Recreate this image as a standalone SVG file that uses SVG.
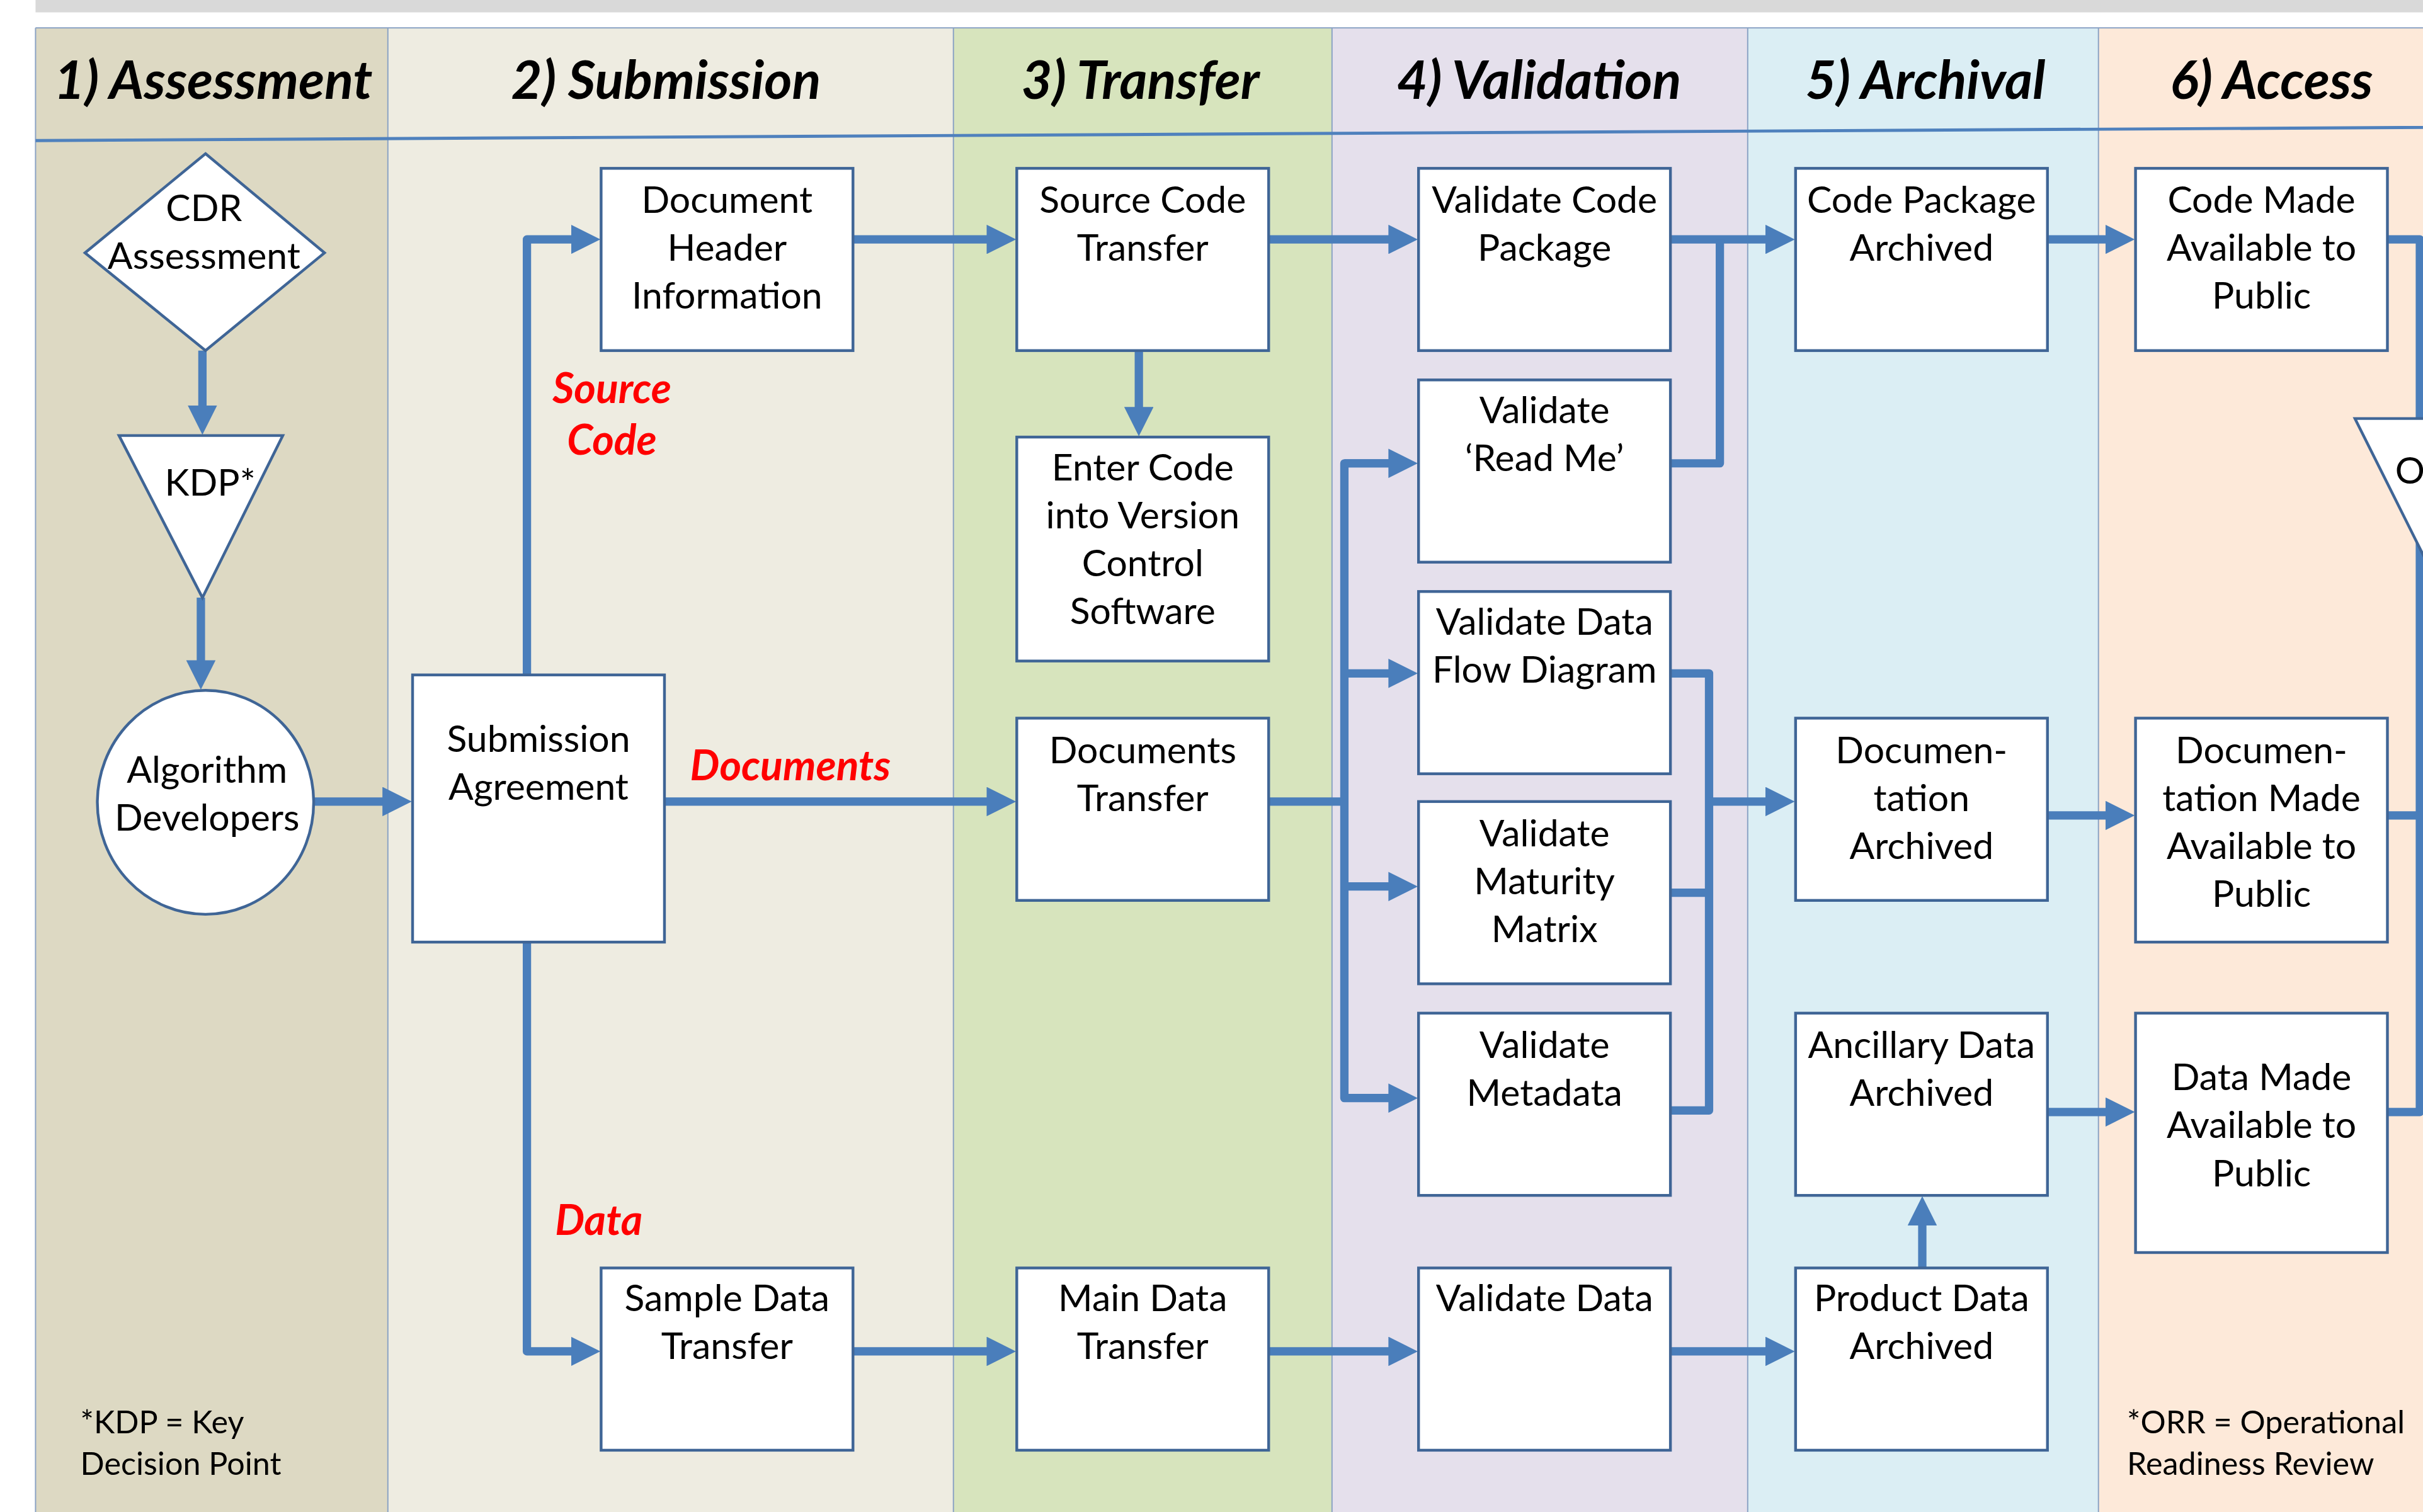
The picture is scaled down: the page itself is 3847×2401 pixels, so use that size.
<svg xmlns="http://www.w3.org/2000/svg" width="3847" height="2401" viewBox="0 0 3847 2401">
<defs>
<style>
.lane{stroke:#8aa2c4;stroke-width:0.8}
.box{fill:#fff;stroke:#3f6596;stroke-width:1.8}
.t{font-family:Lato,"Liberation Sans",sans-serif;font-size:24px;text-anchor:middle;fill:#000}
.hd{font-weight:bold;font-style:italic;font-size:34.5px}
.red{fill:#ff0000;font-weight:bold;font-style:italic;font-size:27px}
.note{font-size:20.5px;text-anchor:start}
.c{fill:none;stroke:#4a7ebb;stroke-width:5.4;stroke-linejoin:round}
.a{marker-end:url(#ah)}
</style>
<marker id="ah" markerUnits="userSpaceOnUse" viewBox="0 0 19 19" markerWidth="19" markerHeight="19" refX="0.5" refY="9.5" orient="auto"><path d="M0,0 L19,9.5 L0,19 z" fill="#4a7ebb"/></marker>
</defs>
<rect width="3847" height="2401" fill="#fff"/>
<g transform="scale(2.4534,2.4525)">
<g id="lanes">
<rect x="23" y="0" width="1545" height="8" fill="#d9d9d9"/>
<rect x="23" y="18" width="228" height="961" fill="#ddd9c3"/>
<rect x="251" y="18" width="366" height="961" fill="#eeece1"/>
<rect x="617" y="18" width="245" height="961" fill="#d7e4bd"/>
<rect x="862" y="18" width="269" height="961" fill="#e5e0ec"/>
<rect x="1131" y="18" width="227" height="961" fill="#dbeef4"/>
<rect x="1358" y="18" width="212" height="961" fill="#fde9d9"/>
<line class="lane" x1="23" y1="18" x2="1568" y2="18"/>
<line class="lane" x1="23" y1="18" x2="23" y2="979"/>
<line class="lane" x1="251" y1="18" x2="251" y2="979"/>
<line class="lane" x1="617" y1="18" x2="617" y2="979"/>
<line class="lane" x1="862" y1="18" x2="862" y2="979"/>
<line class="lane" x1="1131" y1="18" x2="1131" y2="979"/>
<line class="lane" x1="1358" y1="18" x2="1358" y2="979"/>
<line x1="23" y1="91" x2="1568" y2="82.5" stroke="#4f81bd" stroke-width="2"/>
<text class="t hd" x="138" y="64">1) Assessment</text>
<text class="t hd" x="431" y="64">2) Submission</text>
<text class="t hd" x="738" y="64">3) Transfer</text>
<text class="t hd" x="996" y="64">4) Validation</text>
<text class="t hd" x="1246" y="64">5) Archival</text>
<text class="t hd" x="1470" y="64">6) Access</text>
</g>
<g id="connectors">
<path class="c a" d="M131,227 V263"/>
<path class="c a" d="M130,387 V428"/>
<path class="c a" d="M203,519 H248"/>
<path class="c a" d="M341,437 V155 H370"/>
<path class="c a" d="M341,610 V875 H370"/>
<path class="c a" d="M430,519 H639"/>
<path class="c a" d="M552,155 H639"/>
<path class="c a" d="M737,227 V264"/>
<path class="c a" d="M552,875 H639"/>
<path class="c a" d="M821,155 H899"/>
<path class="c" d="M821,519 H870"/>
<path class="c a" d="M899,300 H870 V711 H899"/>
<path class="c a" d="M870,300 H899"/>
<path class="c a" d="M870,436 H899"/>
<path class="c a" d="M870,574 H899"/>
<path class="c a" d="M821,875 H899"/>
<path class="c a" d="M1081,155 H1143"/>
<path class="c" d="M1081,300 H1113 V155"/>
<path class="c" d="M1081,436 H1106 V719 H1081"/>
<path class="c" d="M1081,578 H1106"/>
<path class="c a" d="M1106,519 H1143"/>
<path class="c a" d="M1081,875 H1143"/>
<path class="c a" d="M1244,821 V793"/>
<path class="c a" d="M1325,155 H1363"/>
<path class="c a" d="M1325,528 H1363"/>
<path class="c a" d="M1325,720 H1363"/>
<path class="c" d="M1545,155 H1566 V720 H1545"/>
<path class="c" d="M1545,528 H1566"/>
</g>
<g id="cdr-assessment">
<polygon class="box" points="133,99.5 210,163.7 133,227 55,163.7"/>
<text class="t" x="132" y="143">CDR</text>
<text class="t" x="132" y="174">Assessment</text>
</g>
<g id="kdp">
<polygon class="box" points="77,282 183,282 131,387"/>
<text class="t" x="136" y="321">KDP*</text>
</g>
<g id="algorithm-developers">
<ellipse class="box" cx="133" cy="519.5" rx="70" ry="72.5"/>
<text class="t" x="134" y="507">Algorithm</text>
<text class="t" x="134" y="538">Developers</text>
</g>
<g id="submission-agreement">
<rect class="box" x="267" y="437" width="163" height="173"/>
<text class="t" x="348.5" y="487">Submission</text>
<text class="t" x="348.5" y="518">Agreement</text>
</g>
<g id="document-header">
<rect class="box" x="389" y="109" width="163" height="118"/>
<text class="t" x="470.5" y="138">Document</text>
<text class="t" x="470.5" y="169">Header</text>
<text class="t" x="470.5" y="200">Information</text>
</g>
<g id="sample-data-transfer">
<rect class="box" x="389" y="821" width="163" height="118"/>
<text class="t" x="470.5" y="849">Sample Data</text>
<text class="t" x="470.5" y="880">Transfer</text>
</g>
<g id="labels">
<text class="t red" x="396" y="261">Source</text>
<text class="t red" x="396" y="294.5">Code</text>
<text class="t red" x="511.5" y="505">Documents</text>
<text class="t red" x="387.5" y="799.5">Data</text>
<text class="t note" x="52" y="928">*KDP = Key</text>
<text class="t note" x="52" y="955">Decision Point</text>
<text class="t note" x="1376.5" y="928">*ORR = Operational</text>
<text class="t note" x="1376.5" y="955">Readiness Review</text>
</g>
<g id="source-code-transfer">
<rect class="box" x="658" y="109" width="163" height="118"/>
<text class="t" x="739.5" y="138">Source Code</text>
<text class="t" x="739.5" y="169">Transfer</text>
</g>
<g id="enter-code">
<rect class="box" x="658" y="283" width="163" height="145"/>
<text class="t" x="739.5" y="311">Enter Code</text>
<text class="t" x="739.5" y="342">into Version</text>
<text class="t" x="739.5" y="373">Control</text>
<text class="t" x="739.5" y="404">Software</text>
</g>
<g id="documents-transfer">
<rect class="box" x="658" y="465" width="163" height="118"/>
<text class="t" x="739.5" y="494">Documents</text>
<text class="t" x="739.5" y="525">Transfer</text>
</g>
<g id="main-data-transfer">
<rect class="box" x="658" y="821" width="163" height="118"/>
<text class="t" x="739.5" y="849">Main Data</text>
<text class="t" x="739.5" y="880">Transfer</text>
</g>
<g id="validate-code-package">
<rect class="box" x="918" y="109" width="163" height="118"/>
<text class="t" x="999.5" y="138">Validate Code</text>
<text class="t" x="999.5" y="169">Package</text>
</g>
<g id="validate-read-me">
<rect class="box" x="918" y="246" width="163" height="118"/>
<text class="t" x="999.5" y="274">Validate</text>
<text class="t" x="999.5" y="305">‘Read Me’</text>
</g>
<g id="validate-dfd">
<rect class="box" x="918" y="383" width="163" height="118"/>
<text class="t" x="999.5" y="411">Validate Data</text>
<text class="t" x="999.5" y="442">Flow Diagram</text>
</g>
<g id="validate-maturity">
<rect class="box" x="918" y="519" width="163" height="118"/>
<text class="t" x="999.5" y="548">Validate</text>
<text class="t" x="999.5" y="579">Maturity</text>
<text class="t" x="999.5" y="610">Matrix</text>
</g>
<g id="validate-metadata">
<rect class="box" x="918" y="656" width="163" height="118"/>
<text class="t" x="999.5" y="685">Validate</text>
<text class="t" x="999.5" y="716">Metadata</text>
</g>
<g id="validate-data">
<rect class="box" x="918" y="821" width="163" height="118"/>
<text class="t" x="999.5" y="849">Validate Data</text>
</g>
<g id="code-package-archived">
<rect class="box" x="1162" y="109" width="163" height="118"/>
<text class="t" x="1243.5" y="138">Code Package</text>
<text class="t" x="1243.5" y="169">Archived</text>
</g>
<g id="documentation-archived">
<rect class="box" x="1162" y="465" width="163" height="118"/>
<text class="t" x="1243.5" y="494">Documen-</text>
<text class="t" x="1243.5" y="525">tation</text>
<text class="t" x="1243.5" y="556">Archived</text>
</g>
<g id="ancillary-data-archived">
<rect class="box" x="1162" y="656" width="163" height="118"/>
<text class="t" x="1243.5" y="685">Ancillary Data</text>
<text class="t" x="1243.5" y="716">Archived</text>
</g>
<g id="product-data-archived">
<rect class="box" x="1162" y="821" width="163" height="118"/>
<text class="t" x="1243.5" y="849">Product Data</text>
<text class="t" x="1243.5" y="880">Archived</text>
</g>
<g id="code-made-available">
<rect class="box" x="1382" y="109" width="163" height="118"/>
<text class="t" x="1463.5" y="138">Code Made</text>
<text class="t" x="1463.5" y="169">Available to</text>
<text class="t" x="1463.5" y="200">Public</text>
</g>
<g id="documentation-made-available">
<rect class="box" x="1382" y="465" width="163" height="145"/>
<text class="t" x="1463.5" y="494">Documen-</text>
<text class="t" x="1463.5" y="525">tation Made</text>
<text class="t" x="1463.5" y="556">Available to</text>
<text class="t" x="1463.5" y="587">Public</text>
</g>
<g id="data-made-available">
<rect class="box" x="1382" y="656" width="163" height="155"/>
<text class="t" x="1463.5" y="706">Data Made</text>
<text class="t" x="1463.5" y="737">Available to</text>
<text class="t" x="1463.5" y="768">Public</text>
</g>
<g id="orr">
<polygon class="box" points="1524,271 1630,271 1577,377"/>
<text class="t" x="1550" y="313" style="text-anchor:start">O</text>
</g>
</g>
</svg>
